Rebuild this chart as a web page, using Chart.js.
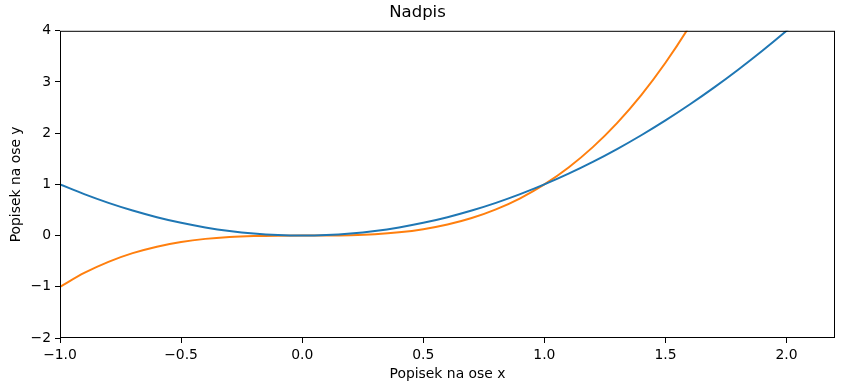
<!DOCTYPE html>
<html>
<head>
<meta charset="utf-8">
<script src="https://cdn.jsdelivr.net/npm/chart.js@4"></script>
<style>
  html, body { margin: 0; padding: 0; background: #fff; }
  #wrap { width: 844px; height: 391px; }
</style>
</head>
<body>
<div id="wrap"><canvas id="chart" width="844" height="391"></canvas></div>
<script>
// values
const xs = [-1.0, -0.9, -0.8, -0.7, -0.6, -0.5, -0.4, -0.3, -0.2, -0.1, 0.0,
  0.1, 0.2, 0.3, 0.4, 0.5, 0.6, 0.7, 0.8, 0.9, 1.0,
  1.1, 1.2, 1.3, 1.4, 1.5, 1.6, 1.7, 1.8, 1.9, 2.0, 2.1, 2.2];
const blueY = [1.0, 0.81, 0.64, 0.49, 0.36, 0.25, 0.16, 0.09, 0.04, 0.01, 0.0,
  0.01, 0.04, 0.09, 0.16, 0.25, 0.36, 0.49, 0.64, 0.81, 1.0,
  1.21, 1.44, 1.69, 1.96, 2.25, 2.56, 2.89, 3.24, 3.61, 4.0, 4.41, 4.84];
const orangeY = [-1.0, -0.729, -0.512, -0.343, -0.216, -0.125, -0.064, -0.027, -0.008, -0.001, 0.0,
  0.001, 0.008, 0.027, 0.064, 0.125, 0.216, 0.343, 0.512, 0.729, 1.0,
  1.331, 1.728, 2.197, 2.744, 3.375, 4.096, 4.913, 5.832, 6.859, 8.0, 9.261, 10.648];
const xTicks = [-1.0, -0.5, 0.0, 0.5, 1.0, 1.5, 2.0];
const yTicks = [-2, -1, 0, 1, 2, 3, 4];

const font = "'DejaVu Sans', sans-serif";
const minus = s => s.replace("-", "\u2212");

// black frame round the plot area, like matplotlib spines
const frame = {
  id: "frame",
  afterDatasetsDraw(chart) {
    const { ctx, chartArea: a } = chart;
    ctx.save();
    ctx.strokeStyle = "#000";
    ctx.lineWidth = 1;
    ctx.strokeRect(a.left + 0.5, a.top + 0.5, a.right - a.left - 1, a.bottom - a.top - 1);
    ctx.restore();
  }
};

new Chart(document.getElementById("chart"), {
  type: "line",
  data: {
    datasets: [
      {
        data: xs.map((x, i) => ({ x: x, y: blueY[i] })),
        borderColor: "#1f77b4",
        borderWidth: 2,
        pointRadius: 0,
        cubicInterpolationMode: "monotone",
      },
      {
        data: xs.map((x, i) => ({ x: x, y: orangeY[i] })),
        borderColor: "#ff7f0e",
        borderWidth: 2,
        pointRadius: 0,
        cubicInterpolationMode: "monotone",
      },
    ],
  },
  options: {
    responsive: false,
    animation: false,
    layout: { padding: { left: 0, right: 9, top: 0, bottom: 0 } },
    plugins: {
      legend: { display: false },
      tooltip: { enabled: false },
      title: {
        display: true,
        text: "Nadpis",
        color: "#000",
        font: { family: font, size: 16.5, weight: "normal" },
        padding: { top: 3, bottom: 8 },
      },
    },
    scales: {
      x: {
        type: "linear",
        min: -1,
        max: 2.2,
        afterBuildTicks: s => { s.ticks = xTicks.map(v => ({ value: v })); },
        afterFit: s => { s.height = 53; },
        grid: { drawOnChartArea: false, drawTicks: true, tickLength: 5, color: "#000" },
        border: { display: false },
        ticks: {
          color: "#000",
          font: { family: font, size: 13.9 },
          padding: 4,
          maxRotation: 0,
          callback: v => minus(v.toFixed(1)),
        },
        title: {
          display: true,
          text: "Popisek na ose x",
          color: "#000",
          font: { family: font, size: 13.9 },
          padding: { top: 0, bottom: 8.5 },
        },
      },
      y: {
        min: -2,
        max: 4,
        afterBuildTicks: s => { s.ticks = yTicks.map(v => ({ value: v })); },
        afterFit: s => { s.width = 60; },
        grid: { drawOnChartArea: false, drawTicks: true, tickLength: 5, color: "#000" },
        border: { display: false },
        ticks: {
          color: "#000",
          font: { family: font, size: 13.9 },
          padding: 4,
          callback: v => minus(String(v)),
        },
        title: {
          display: true,
          text: "Popisek na ose y",
          color: "#000",
          font: { family: font, size: 13.9 },
          padding: { top: 8, bottom: 0 },
        },
      },
    },
  },
  plugins: [frame],
});
</script>
</body>
</html>
